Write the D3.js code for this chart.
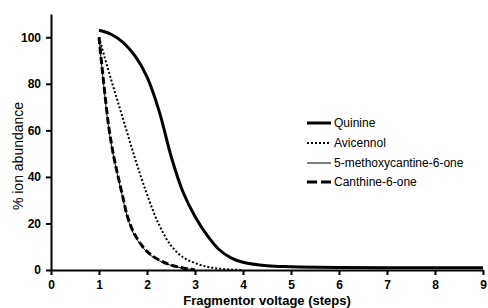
<!DOCTYPE html>
<html>
<head>
<meta charset="utf-8">
<script src="https://cdn.jsdelivr.net/npm/d3@7"></script>
<style>
  body { margin: 0; background: #fff; }
  svg { display: block; font-family: "Liberation Sans", Arial, sans-serif; }
</style>
</head>
<body>
<div id="chart"></div>
<script>
// data
var seriesNames = ["Quinine", "Avicennol", "5-methoxycantine-6-one", "Canthine-6-one"];

var xQuinine = [1, 1.25, 1.5, 1.75, 2, 2.25, 2.5, 2.75, 3, 3.25, 3.5, 3.75, 4, 4.5, 5, 6, 7, 8, 9];
var yQuinine = [103, 101.3, 97.8, 92, 83, 68.5, 49, 33.5, 23, 15, 8.8, 5.2, 3.3, 1.8, 1.4, 1.1, 1, 1, 1];

var xAvicennol = [1, 1.25, 1.5, 1.75, 2, 2.25, 2.5, 2.75, 3, 3.25, 3.5, 3.75, 4];
var yAvicennol = [100, 82, 65, 48, 32.5, 19.5, 10.5, 5.5, 3, 1.4, 0.6, 0.2, 0];

var xMethoxy = [1, 1.1, 1.2, 1.3, 1.4, 1.5, 1.6, 1.75, 2, 2.25, 2.5, 2.75, 3];
var yMethoxy = [100, 79, 61, 49, 39.5, 30.5, 22, 14.5, 7.7, 4, 2, 0.8, 0];

var xCanthine = [1, 1.1, 1.2, 1.3, 1.4, 1.5, 1.6, 1.75, 2, 2.25, 2.5, 2.75, 3];
var yCanthine = [100, 80, 62, 49.5, 40, 31, 22.5, 15, 8, 4.3, 2.1, 0.9, 0];

var xTicks = [0, 1, 2, 3, 4, 5, 6, 7, 8, 9];
var yTicks = [0, 20, 40, 60, 80, 100];

var width = 488, height = 308;
var plotLeft = 51, plotRight = 483, plotTop = 14, plotBottom = 270;

var svg = d3.select("#chart").append("svg")
  .attr("width", width)
  .attr("height", height);

var xScale = d3.scaleLinear().domain([0, 9]).range([plotLeft, plotRight]);
var yScale = d3.scaleLinear().domain([0, 110]).range([plotBottom, plotTop]);

// axes
var xAxis = d3.axisBottom(xScale).tickValues(xTicks).tickSize(5).tickSizeOuter(0).tickFormat(d3.format("d"));
var yAxis = d3.axisLeft(yScale).tickValues(yTicks).tickSize(5).tickSizeOuter(0).tickFormat(d3.format("d"));

var gx = svg.append("g")
  .attr("transform", "translate(0," + plotBottom + ")")
  .call(xAxis);
var gy = svg.append("g")
  .attr("transform", "translate(" + plotLeft + ",0)")
  .call(yAxis);

[gx, gy].forEach(function(g) {
  g.select(".domain").attr("stroke", "#000").attr("stroke-width", 2);
  g.selectAll(".tick line").attr("stroke", "#000").attr("stroke-width", 2);
  g.selectAll(".tick text")
    .attr("fill", "#000")
    .style("font-family", "'Liberation Sans', Arial, sans-serif")
    .style("font-size", "12px")
    .style("font-weight", "bold");
});
gx.selectAll(".tick text").attr("dy", "0.95em");
gy.selectAll(".tick text").attr("x", -10);

// axis titles
svg.append("text")
  .attr("x", (plotLeft + plotRight) / 2)
  .attr("y", 305)
  .attr("text-anchor", "middle")
  .style("font-size", "13px")
  .style("font-weight", "bold")
  .text("Fragmentor voltage (steps)");

svg.append("text")
  .attr("transform", "translate(23,156) rotate(-90)")
  .attr("text-anchor", "middle")
  .style("font-size", "14px")
  .text("% ion abundance");

// lines
var styles = [
  { w: 3, dash: null },
  { w: 2, dash: "2,2" },
  { w: 1, dash: null },
  { w: 3, dash: "7,3" }
];
var xs = [xQuinine, xAvicennol, xMethoxy, xCanthine];
var ys = [yQuinine, yAvicennol, yMethoxy, yCanthine];

var line = d3.line()
  .x(function(d) { return xScale(d[0]); })
  .y(function(d) { return yScale(d[1]); })
  .curve(d3.curveCatmullRom.alpha(0.5));

seriesNames.forEach(function(name, i) {
  var pts = xs[i].map(function(x, j) { return [x, ys[i][j]]; });
  svg.append("path")
    .datum(pts)
    .attr("d", line)
    .attr("fill", "none")
    .attr("stroke", "#000")
    .attr("stroke-width", styles[i].w)
    .attr("stroke-dasharray", styles[i].dash);
});

// legend
var legendY = [123, 143, 163, 182];
seriesNames.forEach(function(name, i) {
  svg.append("line")
    .attr("x1", 307).attr("x2", 331)
    .attr("y1", legendY[i]).attr("y2", legendY[i])
    .attr("stroke", "#000")
    .attr("stroke-width", styles[i].w)
    .attr("stroke-dasharray", i === 3 ? "10,4" : styles[i].dash);
  svg.append("text")
    .attr("x", 334)
    .attr("y", legendY[i])
    .attr("dy", "0.35em")
    .style("font-size", "12px")
    .text(name);
});
</script>
</body>
</html>
